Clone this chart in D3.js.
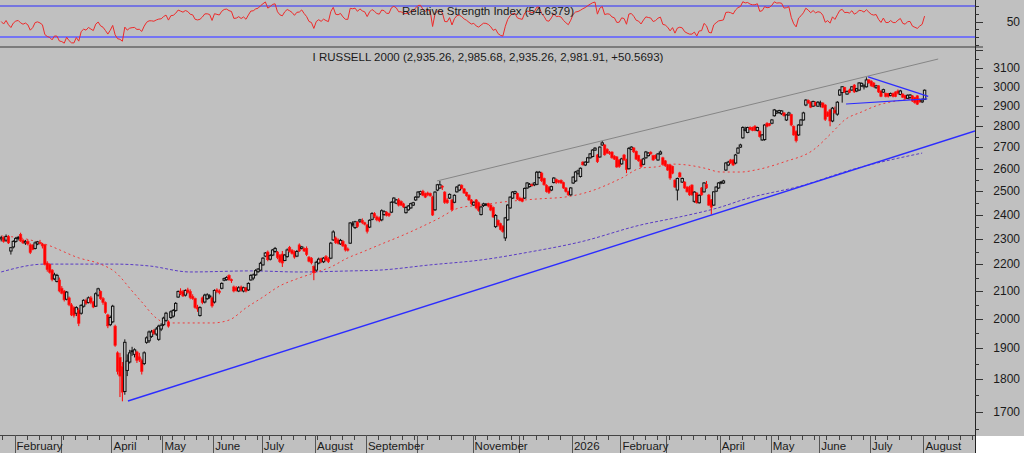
<!DOCTYPE html>
<html>
<head>
<meta charset="utf-8">
<title>Russell 2000</title>
<style>
  body { margin: 0; background: #c0c0c0; }
  svg { display: block; }
  text { font-family: "Liberation Sans", Arial, sans-serif; fill: #1a1a1a; }
</style>
</head>
<body>
<svg width="1024" height="453"></svg>
<script src="https://d3js.org/d3.v7.min.js"></script>
<script>
// daily bars, Jan 24 2025 .. Aug 3 2026
var opens = [
  2300,2305,2295,2310,2252,2268,2290,2302,2318,2295, 2284,2290,2276,2276,2262,2280,2286,2280,2276,2205,
  2200,2178,2145,2135,2141,2110,2100,2070,2075,2050, 2040,2020,2031,2020,2045,2066,2058,2075,2060,2045,
  2085,2098,2072,2058,2014,1980,1990,1975,1885,1870, 1840,1762,1828,1855,1890,1880,1888,1872,1860,1850,
  1920,1925,1940,1960,1948,1930,1965,1980,1995,1990, 2005,2010,2030,2078,2100,2098,2085,2104,2098,2080,
  2072,2042,2012,2075,2060,2072,2078,2075,2060,2104, 2100,2110,2140,2142,2158,2142,2115,2112,2100,2115,
  2100,2112,2104,2141,2148,2160,2172,2178,2198,2232, 2248,2220,2236,2250,2248,2236,2240,2215,2230,2266,
  2255,2248,2232,2276,2262,2262,2262,2228,2224,2192, 2178,2205,2222,2210,2230,2222,2224,2296,2304,2296,
  2280,2290,2276,2260,2283,2360,2346,2368,2372,2376, 2366,2357,2348,2380,2404,2390,2386,2378,2400,2410,
  2404,2410,2453,2448,2462,2455,2445,2408,2420,2428, 2440,2462,2475,2488,2500,2490,2492,2490,2475,2420,
  2505,2514,2522,2496,2462,2470,2462,2452,2497,2505, 2526,2510,2495,2483,2462,2440,2462,2450,2400,2438,
  2440,2446,2440,2430,2350,2376,2362,2352,2304,2378, 2428,2470,2490,2490,2470,2468,2470,2514,2520,2530,
  2528,2530,2560,2580,2556,2526,2518,2505,2538,2552, 2546,2548,2538,2514,2498,2484,2536,2545,2580,2565,
  2630,2617,2630,2650,2656,2686,2663,2654,2710,2710, 2690,2676,2677,2658,2654,2640,2622,2663,2640,2600,
  2690,2696,2680,2660,2640,2620,2650,2660,2676,2660, 2662,2640,2668,2650,2636,2617,2617,2610,2549,2505,
  2581,2540,2540,2518,2518,2527,2456,2492,2450,2514, 2497,2530,2483,2462,2440,2500,2514,2536,2536,2594,
  2617,2640,2640,2626,2672,2700,2744,2780,2770,2794, 2794,2800,2780,2776,2734,2736,2815,2812,2815,2852,
  2866,2868,2862,2866,2831,2856,2858,2800,2775,2758, 2806,2831,2906,2930,2921,2900,2920,2900,2910,2916,
  2906,2870,2881,2826,2880,2860,2957,2970,2996,2962, 2983,2983,3009,2978,2983,3005,3000,3000,3036,3030,
  3020,2995,3005,2978,2972,2965,2965,2955,2965,2973, 2978,2960,2962,2955,2940,2944,2953,2945,2953,2935,
  2922,2935
];
var highs = [
  2312,2310,2318,2315,2268,2295,2308,2312,2325,2300, 2296,2298,2282,2278,2290,2292,2296,2284,2280,2212,
  2204,2182,2168,2164,2150,2118,2104,2100,2080,2056, 2045,2045,2038,2052,2070,2072,2080,2082,2064,2095,
  2112,2102,2078,2062,2018,2012,2050,1980,1890,1885, 1855,1930,1880,1895,1905,1900,1892,1885,1866,1890,
  1940,1960,1962,1965,1972,1980,1985,2008,2025,1995, 2030,2035,2060,2102,2110,2104,2106,2112,2106,2088,
  2076,2050,2045,2080,2090,2092,2088,2080,2106,2110, 2106,2132,2150,2155,2162,2146,2120,2118,2118,2120,
  2116,2115,2132,2162,2165,2182,2186,2210,2228,2248, 2254,2240,2260,2268,2252,2240,2252,2240,2262,2272,
  2260,2254,2256,2282,2272,2266,2270,2232,2228,2196, 2214,2226,2226,2228,2236,2228,2288,2335,2310,2302,
  2300,2296,2280,2266,2368,2372,2374,2372,2382,2384, 2370,2360,2380,2410,2410,2396,2392,2422,2418,2414,
  2408,2456,2474,2466,2470,2460,2450,2434,2440,2450, 2454,2478,2500,2502,2506,2494,2498,2494,2480,2500,
  2532,2545,2526,2500,2470,2490,2466,2486,2522,2530, 2530,2514,2498,2486,2466,2456,2466,2455,2436,2450,
  2448,2450,2444,2434,2402,2380,2366,2356,2390,2444, 2478,2500,2502,2494,2476,2472,2516,2540,2536,2534,
  2540,2590,2590,2586,2560,2530,2522,2524,2562,2556, 2550,2552,2542,2518,2502,2518,2566,2590,2596,2606,
  2634,2634,2654,2672,2690,2700,2668,2704,2729,2714, 2695,2682,2680,2662,2658,2644,2650,2668,2646,2700,
  2704,2700,2684,2664,2644,2650,2682,2676,2680,2664, 2666,2672,2684,2655,2640,2622,2620,2614,2552,2560,
  2586,2560,2544,2522,2524,2530,2500,2496,2486,2518, 2540,2545,2488,2466,2500,2522,2540,2544,2550,2630,
  2636,2645,2645,2668,2700,2716,2800,2798,2798,2800, 2798,2806,2798,2780,2762,2810,2820,2816,2836,2886,
  2880,2882,2880,2870,2860,2872,2862,2804,2780,2810, 2836,2872,2936,2934,2924,2928,2924,2926,2928,2920,
  2910,2874,2886,2896,2898,2926,2988,3004,3000,2980, 2990,3004,3014,2994,3024,3022,3012,3050,3040,3034,
  3024,3010,3008,2982,2990,2970,2968,2970,2970,2976, 2986,2984,2966,2958,2960,2962,2956,2948,2956,2938,
  2940,2986
];
var lows = [
  2290,2285,2288,2280,2238,2262,2285,2294,2288,2280, 2276,2274,2240,2255,2258,2275,2278,2262,2196,2172,
  2165,2136,2140,2132,2095,2088,2062,2066,2045,2010, 2005,2010,1975,2015,2040,2050,2055,2052,2038,2042,
  2080,2068,2050,2018,1968,1975,1985,1905,1815,1745, 1732,1752,1810,1850,1875,1870,1852,1855,1815,1845,
  1915,1918,1935,1945,1942,1925,1958,1975,1990,1970, 2000,2005,2025,2075,2085,2078,2080,2090,2070,2068,
  2036,2025,2008,2052,2055,2068,2072,2040,2055,2092, 2088,2106,2136,2138,2138,2130,2095,2098,2096,2098,
  2095,2095,2100,2138,2140,2156,2168,2175,2195,2228, 2212,2215,2232,2245,2220,2205,2190,2212,2226,2246,
  2238,2222,2228,2248,2258,2248,2232,2208,2200,2140, 2172,2200,2205,2205,2212,2205,2220,2292,2280,2278,
  2276,2268,2250,2250,2280,2350,2340,2345,2365,2360, 2355,2322,2344,2376,2385,2372,2368,2372,2395,2392,
  2390,2406,2450,2444,2434,2436,2428,2404,2416,2424, 2436,2458,2470,2484,2478,2470,2478,2476,2394,2415,
  2500,2510,2505,2445,2445,2466,2415,2448,2494,2500, 2508,2488,2476,2458,2440,2436,2422,2412,2396,2432,
  2436,2430,2414,2386,2344,2350,2334,2325,2292,2374, 2424,2466,2486,2462,2456,2452,2466,2510,2516,2520,
  2522,2526,2555,2540,2524,2494,2488,2500,2534,2532, 2534,2532,2510,2494,2480,2480,2532,2540,2572,2560,
  2614,2612,2626,2646,2652,2682,2626,2650,2706,2660, 2668,2664,2646,2640,2604,2604,2618,2636,2580,2596,
  2686,2672,2640,2632,2604,2616,2646,2656,2664,2636, 2644,2636,2664,2614,2608,2590,2550,2575,2514,2460,
  2560,2536,2510,2494,2480,2480,2450,2446,2446,2480, 2494,2510,2436,2400,2436,2496,2510,2530,2532,2590,
  2612,2622,2612,2620,2668,2696,2740,2775,2766,2780, 2776,2776,2775,2745,2730,2730,2795,2800,2810,2848,
  2860,2862,2856,2848,2826,2852,2800,2754,2722,2754, 2802,2828,2900,2912,2890,2896,2900,2896,2894,2890,
  2826,2846,2800,2820,2862,2852,2952,2918,2968,2958, 2966,2978,2968,2972,2978,3000,2986,2996,3016,3000,
  2996,2990,2968,2946,2968,2945,2944,2950,2945,2946, 2960,2956,2942,2934,2936,2938,2922,2912,2906,2918,
  2916,2935
];
var closes = [
  2305,2290,2310,2284,2265,2290,2302,2306,2292,2284, 2290,2280,2246,2258,2284,2288,2282,2272,2200,2180,
  2170,2142,2160,2158,2100,2092,2068,2096,2050,2014, 2012,2040,1985,2048,2066,2055,2075,2058,2042,2090,
  2108,2072,2058,2022,1976,2005,2045,1910,1825,1810, 1760,1920,1858,1885,1892,1895,1860,1862,1825,1885,
  1935,1955,1955,1950,1965,1975,1978,2003,2020,1975, 2025,2030,2055,2098,2090,2082,2102,2095,2076,2072,
  2040,2035,2040,2058,2085,2086,2082,2046,2102,2098, 2094,2128,2146,2150,2142,2138,2100,2102,2112,2102,
  2112,2100,2128,2158,2160,2176,2182,2204,2224,2244, 2218,2234,2256,2262,2226,2210,2205,2236,2256,2250,
  2242,2228,2250,2252,2268,2252,2238,2212,2206,2168, 2208,2220,2210,2224,2216,2210,2283,2328,2285,2282,
  2294,2272,2256,2255,2365,2362,2370,2350,2378,2366, 2360,2330,2376,2404,2392,2378,2374,2416,2412,2396,
  2396,2452,2470,2462,2440,2440,2432,2430,2436,2446, 2450,2474,2496,2498,2482,2474,2484,2480,2398,2496,
  2528,2528,2518,2452,2450,2486,2420,2482,2518,2526, 2512,2492,2480,2462,2446,2452,2428,2418,2432,2445,
  2444,2436,2419,2390,2396,2356,2338,2330,2386,2440, 2474,2496,2498,2466,2460,2456,2512,2536,2530,2524,
  2536,2584,2584,2546,2528,2498,2494,2520,2558,2538, 2540,2536,2514,2498,2484,2514,2562,2585,2590,2602,
  2618,2630,2650,2668,2686,2695,2632,2700,2720,2664, 2672,2670,2650,2644,2608,2610,2645,2640,2596,2694,
  2700,2678,2644,2636,2610,2645,2677,2672,2668,2640, 2648,2668,2677,2620,2614,2594,2558,2580,2518,2556,
  2563,2556,2514,2497,2484,2484,2496,2450,2482,2484, 2536,2514,2440,2431,2497,2518,2536,2540,2545,2626,
  2630,2626,2617,2663,2695,2710,2794,2786,2794,2784, 2780,2780,2794,2750,2758,2806,2800,2804,2831,2881,
  2874,2878,2876,2852,2856,2866,2806,2758,2730,2806, 2831,2866,2931,2916,2895,2924,2906,2920,2916,2895,
  2834,2850,2826,2890,2866,2920,2983,3000,2972,2976, 2970,3000,2973,2990,3020,3018,3008,3036,3020,3005,
  3000,3005,2973,2950,2985,2950,2950,2965,2950,2950, 2966,2978,2946,2940,2956,2957,2926,2918,2910,2922,
  2931,2982
];

// moving averages as drawn (bar index, value)
var ma50Bars   = [0,8,19,32,41,47,54,58,64,68, 78,87,94,101,108,115,122,129,136,143, 149,156,166,180,189,198,207,221,233,242, 256,264,270,277,283,290,297,305,312,323, 335,343,348,355,362,369,377,381];
var ma50Values = [2312,2304,2276,2225,2201,2171,2100,2060,2003,1986, 1986,1986,1996,2039,2078,2119,2145,2167,2190,2225, 2248,2276,2316,2381,2428,2440,2453,2466,2475,2496, 2558,2603,2608,2621,2617,2603,2585,2585,2596,2631, 2686,2772,2831,2871,2906,2926,2936,2936];
var ma200Bars   = [0,18,47,61,78,103,123,144,156,177,198,218,239,264,280,297,307,330,352,380];
var ma200Values = [2171,2201,2201,2194,2171,2175,2171,2175,2178,2198,2217,2248,2288,2357,2390,2432,2466,2523,2599,2672];

// drawn trend lines: [bar, price] end points
var supportLine = [[52.3, 1733], [401.8, 2777]];
var channelLine = [[179.8, 2545], [386.6, 3149]];
var wedgeUpper  = [[357.7, 3052], [382.5, 2950]];
var wedgeLower  = [[348.6, 2911], [382.1, 2937]];

// axis labels
var monthLabels = ["February","March","April","May","June","July","August","September","October","November","December",
                   "2026","February","March","April","May","June","July","August"];
var monthStarts = [6,25,46,67,88,108,130,151,172,195,214,236,256,275,297,318,338,359,381];
var priceTicks = d3.range(1650, 3201, 50);
var rsiTicks = [20, 30, 40, 50, 60, 70, 80];
var rsiBands = [30, 70];

var rsiTitle = "Relative Strength Index (54.6379)";
var mainTitle = "I RUSSELL 2000 (2,935.26, 2,985.68, 2,935.26, 2,981.91, +50.5693)";

var svg = d3.select("svg"),
    W = 1024, H = 453,
    right = 975, mainTop = 48, mainBottom = 435;

var x = d3.scaleLinear().domain([0, 402.3]).range([0, right]);
var y = d3.scaleLog().domain([1700, 3100]).range([412, 68]);
var yR = d3.scaleLinear().domain([30, 70]).range([37, 6]);
var cx = function(i) { return x(i + 0.5); };

svg.append("rect").attr("width", W).attr("height", H).attr("fill", "#c0c0c0");
svg.append("rect").attr("x", right + 1).attr("y", 436).attr("width", W - right - 1).attr("height", H - 436).attr("fill", "#fff");

var defs = svg.append("defs");
defs.append("clipPath").attr("id", "clipMain").append("rect")
    .attr("x", 0).attr("y", mainTop).attr("width", right).attr("height", mainBottom - mainTop);
defs.append("clipPath").attr("id", "clipRsi").append("rect")
    .attr("x", 0).attr("y", 0).attr("width", right).attr("height", 46);

// ---- RSI panel ----
var g1 = svg.append("g").attr("clip-path", "url(#clipRsi)");
var seed = d3.mean(d3.range(1, 15), function(i) { return Math.abs(closes[i] - closes[i - 1]); }) / 2;
var ag = seed, al = seed, rsi = [50];
for (var i = 1; i < closes.length; i++) {
  var ch = closes[i] - closes[i - 1];
  ag = (ag * 13 + Math.max(ch, 0)) / 14;
  al = (al * 13 + Math.max(-ch, 0)) / 14;
  rsi.push(100 - 100 / (1 + ag / al));
}
g1.selectAll(".band").data(rsiBands).enter().append("line")
    .attr("x1", 0).attr("x2", right)
    .attr("y1", function(d) { return yR(d); }).attr("y2", function(d) { return yR(d); })
    .attr("stroke", function(d) { return d === 70 ? "#2a2aff" : "#7474f4"; })
    .attr("stroke-width", function(d) { return d === 70 ? 1 : 2; });
g1.append("path")
    .attr("d", d3.line().x(function(d, i) { return cx(i); }).y(function(d) { return yR(d); })(rsi))
    .attr("fill", "none").attr("stroke", "#ee2a2a").attr("stroke-width", 1);

svg.append("text").attr("x", 488).attr("y", 15).attr("text-anchor", "middle")
    .style("font-size", "11.5px").text(rsiTitle);

svg.append("line").attr("x1", 0).attr("x2", right + 8).attr("y1", 47).attr("y2", 47)
    .attr("stroke", "#7c7c7c").attr("stroke-width", 2);

// ---- main panel ----
var g2 = svg.append("g").attr("clip-path", "url(#clipMain)");

function maLine(bars, vals, color, dash) {
  var pts = bars.map(function(b, k) { return [cx(b), y(vals[k])]; });
  g2.append("path").attr("d", d3.line().curve(d3.curveMonotoneX)(pts))
      .attr("fill", "none").attr("stroke", color).attr("stroke-width", 1)
      .attr("stroke-dasharray", dash);
}
maLine(ma200Bars, ma200Values, "#5a3cc4", "3,2");
maLine(ma50Bars, ma50Values, "#f03a3a", "2,3");

var idx = d3.range(closes.length);
var up = function(i) { return closes[i] >= opens[i]; };

g2.selectAll(".wick").data(idx).enter().append("line")
    .attr("x1", cx).attr("x2", cx)
    .attr("y1", function(i) { return y(highs[i]); })
    .attr("y2", function(i) { return y(lows[i]); })
    .attr("stroke", function(i) { return up(i) ? "#111" : "#ff0000"; })
    .attr("stroke-width", 1);

g2.selectAll(".body").data(idx).enter().append("rect")
    .attr("x", function(i) { return cx(i) - 1.2; })
    .attr("width", 2.4)
    .attr("y", function(i) { return y(Math.max(opens[i], closes[i])); })
    .attr("height", function(i) { return Math.max(1, Math.abs(y(opens[i]) - y(closes[i]))); })
    .attr("fill", function(i) { return up(i) ? "#c8c8c8" : "#ff0000"; })
    .attr("stroke", function(i) { return up(i) ? "#111" : "#ff1a1a"; })
    .attr("stroke-width", function(i) { return up(i) ? 1 : 0.6; });

function trend(pts, color, width) {
  g2.append("line")
      .attr("x1", cx(pts[0][0])).attr("y1", y(pts[0][1]))
      .attr("x2", cx(pts[1][0])).attr("y2", y(pts[1][1]))
      .attr("stroke", color).attr("stroke-width", width);
}
trend(channelLine, "#858585", 1);
trend(supportLine, "#2c2cff", 1.4);
trend(wedgeUpper, "#2c2cff", 1.2);
trend(wedgeLower, "#2c2cff", 1.2);

svg.append("text").attr("x", 488).attr("y", 61).attr("text-anchor", "middle")
    .style("font-size", "11.5px").text(mainTitle);

// ---- right axis ----
svg.append("line").attr("x1", right + 0.5).attr("x2", right + 0.5).attr("y1", 0).attr("y2", H)
    .attr("stroke", "#222").attr("stroke-width", 1);

var pt = priceTicks.filter(function(p) { return y(p) > mainTop + 1 && y(p) < mainBottom + 2; });
svg.selectAll(".ptick").data(pt).enter().append("line")
    .attr("x1", right).attr("x2", function(p) { return p % 100 === 0 ? right + 8 : right + 4; })
    .attr("y1", function(p) { return Math.round(y(p)) + 0.5; })
    .attr("y2", function(p) { return Math.round(y(p)) + 0.5; })
    .attr("stroke", "#333");
svg.selectAll(".plabel").data(pt.filter(function(p) { return p % 100 === 0 && p < 3200; })).enter().append("text")
    .attr("x", 1020).attr("y", function(p) { return y(p) + 4; })
    .attr("text-anchor", "end").style("font-size", "12px")
    .text(function(p) { return p; });

var rt = rsiTicks.filter(function(r) { return yR(r) > 0 && yR(r) < 46; });
svg.selectAll(".rtick").data(rt).enter().append("line")
    .attr("x1", right).attr("x2", function(r) { return r === 50 ? right + 8 : right + 4; })
    .attr("y1", function(r) { return Math.round(yR(r)) + 0.5; })
    .attr("y2", function(r) { return Math.round(yR(r)) + 0.5; })
    .attr("stroke", "#333");
svg.append("text").attr("x", 1020).attr("y", yR(50) + 4).attr("text-anchor", "end")
    .style("font-size", "12px").text("50");

// ---- date axis ----
svg.append("line").attr("x1", 0).attr("x2", right).attr("y1", mainBottom + 0.5).attr("y2", mainBottom + 0.5)
    .attr("stroke", "#444");
svg.selectAll(".wtick").data(d3.range(1, 402, 5)).enter().append("line")
    .attr("x1", function(i) { return Math.round(x(i)) + 0.5; })
    .attr("x2", function(i) { return Math.round(x(i)) + 0.5; })
    .attr("y1", mainBottom).attr("y2", mainBottom + 5)
    .attr("stroke", "#444");
svg.selectAll(".msep").data(monthStarts).enter().append("line")
    .attr("x1", function(i) { return Math.round(x(i)) + 0.5; })
    .attr("x2", function(i) { return Math.round(x(i)) + 0.5; })
    .attr("y1", mainBottom).attr("y2", H)
    .attr("stroke", "#555");

var lastEnd = -10;
monthStarts.forEach(function(s, k) {
  var lx = x(s) + 2;
  if (lx < lastEnd + 2) return;
  var t = svg.append("text").attr("x", lx).attr("y", 450).style("font-size", "11.5px").text(monthLabels[k]);
  lastEnd = lx + t.node().getComputedTextLength();
});
</script>
</body>
</html>
